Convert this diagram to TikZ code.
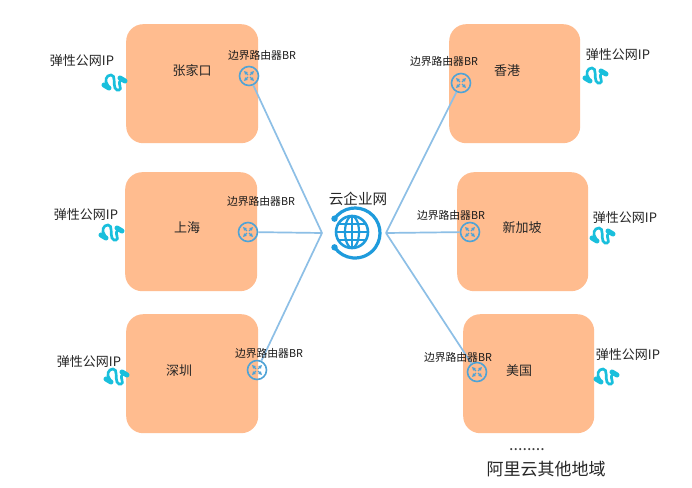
\documentclass[tikz,border=0pt]{standalone}
\usepackage{fontspec}
\usetikzlibrary{arrows.meta}
\setmainfont{Noto Sans CJK SC}
\definecolor{regionfill}{HTML}{FFBC8F}
\definecolor{linkblue}{HTML}{8DBFE6}
\definecolor{routerblue}{HTML}{4FA3D6}
\definecolor{hubblue}{HTML}{1E9BDC}
\definecolor{cablecyan}{HTML}{19BFDC}
\tikzset{
  region/.style={fill=regionfill,draw=none,rounded corners=17pt,minimum width=#1,minimum height=119pt,inner sep=0pt,anchor=north west},
  regionlabel/.style={font=\fontsize{13}{14}\selectfont,text=black!85,inner sep=0pt},
  brlabel/.style={font=\fontsize{10.8}{12}\selectfont,text=black!90,inner sep=0pt},
  iplabel/.style={font=\fontsize{13}{14}\selectfont,text=black!85,inner sep=0pt},
  router/.style={circle,draw=routerblue,line width=1.6pt,minimum size=19pt,inner sep=0pt},
  linkline/.style={draw=linkblue,line width=1.7pt},
  cablepic/.pic={
    \draw[cablecyan,line width=2.7pt,line cap=round] (-6,3) .. controls (-10,-2) and (-8,-8) .. (-3,-8) .. controls (2,-8) and (-1,1) .. (1,5) .. controls (3,9) and (8,7) .. (6,3) .. controls (5,0) and (5,-2) .. (8,-3);
    \draw[cablecyan,line width=5pt,line cap=round] (-10,2) -- (-5,5);
    \draw[cablecyan,line width=5pt,line cap=round] (6,-5) -- (11,-2);
  },
  routerarrows/.pic={
    \foreach \a in {45,135,225,315}{
      \draw[routerblue,line width=1.1pt,-{Latex[length=3.6pt,width=4.2pt]}] (\a:1.5pt) -- (\a:7.2pt);
    }
  }
}
\begin{document}
\begin{tikzpicture}[x=1pt,y=-1pt]
\useasboundingbox (0,0) rectangle (692,487);
\fill[white] (0,0) rectangle (692,487);
% regions
\node[region=132pt] (zjk) at (126,24) {};
\node[region=132pt] (sh) at (125,172) {};
\node[region=132pt] (sz) at (126,314) {};
\node[region=131pt] (hk) at (449,24) {};
\node[region=131pt] (sg) at (457,172) {};
\node[region=131pt] (us) at (463,314) {};
\node[regionlabel] (tzjk) at (192,71) {张家口};
\node[regionlabel] (tsh) at (187,228) {上海};
\node[regionlabel] (tsz) at (179,371) {深圳};
\node[regionlabel] (thk) at (507,71) {香港};
\node[regionlabel] (tsg) at (522,228) {新加坡};
\node[regionlabel] (tus) at (519,371) {美国};
% hub anchors
\coordinate (hl) at (322,233);
\coordinate (hr) at (386,233);
% routers
\node[router] (r1) at (249,76) {};
\node[router] (r2) at (248,232) {};
\node[router] (r3) at (257,370) {};
\node[router] (r4) at (461,83) {};
\node[router] (r5) at (470,232) {};
\node[router] (r6) at (477,372) {};
\foreach \r in {r1,r2,r3,r4,r5,r6}{ \path (\r) pic {routerarrows}; }
% links
\draw[linkline] (r1) -- (hl);
\draw[linkline] (r2) -- (hl);
\draw[linkline] (r3) -- (hl);
\draw[linkline] (r4) -- (hr);
\draw[linkline] (r5) -- (hr);
\draw[linkline] (r6) -- (hr);
% BR labels
\node[brlabel] (b1) at (262,55) {边界路由器BR};
\node[brlabel] (b2) at (261,201) {边界路由器BR};
\node[brlabel] (b3) at (269,353) {边界路由器BR};
\node[brlabel] (b4) at (444,61) {边界路由器BR};
\node[brlabel] (b5) at (451,215) {边界路由器BR};
\node[brlabel] (b6) at (458,357) {边界路由器BR};
% IP labels
\node[iplabel] (i1) at (82,61) {弹性公网IP};
\node[iplabel] (i2) at (86,215) {弹性公网IP};
\node[iplabel] (i3) at (89,362) {弹性公网IP};
\node[iplabel] (i4) at (618,55) {弹性公网IP};
\node[iplabel] (i5) at (625,218) {弹性公网IP};
\node[iplabel] (i6) at (628,355) {弹性公网IP};
% cables
\path (114,83) pic {cablepic};
\path (111,233) pic {cablepic};
\path (116,377) pic {cablepic};
\path (595,76) pic {cablepic};
\path (602,236) pic {cablepic};
\path (606,377) pic {cablepic};
% hub
\node[font=\fontsize{14.6}{16}\selectfont,text=black!85,inner sep=0pt] (hubt) at (358,199) {云企业网};
\coordinate (ring) at (355,233);
\coordinate (hub) at (352,232);
\draw[hubblue,line width=3.2pt,line cap=round] ([shift={(145:25pt)}]ring) arc[start angle=145,end angle=-145,radius=25pt];
\fill[hubblue] ([shift={(145:25pt)}]ring) circle (3.2pt);
\fill[hubblue] ([shift={(-145:25pt)}]ring) circle (3.2pt);
\draw[hubblue,line width=2.6pt] (hub) circle (16pt);
\draw[hubblue,line width=2.2pt] (hub) ellipse (7pt and 16pt);
\draw[hubblue,line width=2.2pt] ([yshift=-16pt]hub) -- ([yshift=16pt]hub);
\draw[hubblue,line width=2.2pt] ([xshift=-16pt]hub) -- ([xshift=16pt]hub);
\draw[hubblue,line width=2.2pt] ([xshift=-13.5pt,yshift=-8pt]hub) -- ([xshift=13.5pt,yshift=-8pt]hub);
\draw[hubblue,line width=2.2pt] ([xshift=-13.5pt,yshift=8pt]hub) -- ([xshift=13.5pt,yshift=8pt]hub);
% footer
\node[font=\fontsize{16}{17}\selectfont,text=black!75,inner sep=0pt] (dots) at (527,450) {........};
\node[font=\fontsize{17}{19}\selectfont,text=black!85,inner sep=0pt] (other) at (546,469) {阿里云其他地域};
\end{tikzpicture}
\end{document}
